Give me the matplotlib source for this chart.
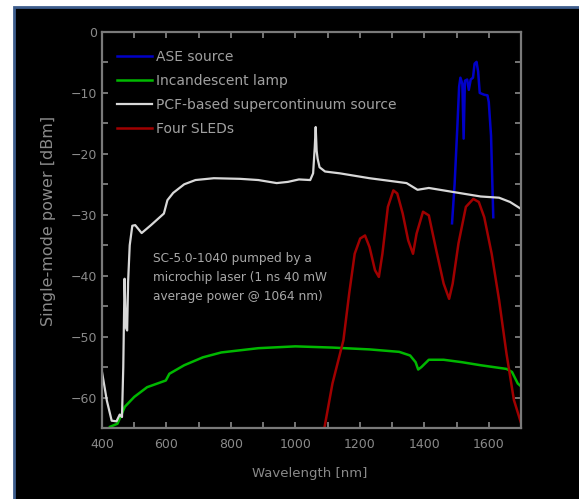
import matplotlib
matplotlib.use("Agg")
import matplotlib.pyplot as plt
from matplotlib.patches import Rectangle
from matplotlib.ticker import MultipleLocator

# PCF-based supercontinuum source
sc_wl = [400, 415, 430, 445, 455, 462, 466, 470, 474, 478, 481, 486, 494, 503, 523, 552, 592, 603, 621,
         655, 690, 747, 828, 885, 942, 977, 1011, 1046, 1055, 1060, 1063, 1066, 1069, 1075, 1092, 1138,
         1230, 1345, 1379, 1414, 1494, 1575, 1632, 1666, 1699]
sc_db = [-55.8, -60.5, -63.8, -63.9, -62.8, -63.2, -55.0, -40.5, -48.5, -49.0, -41.0, -35.0, -31.8, -31.7,
         -33.0, -31.7, -29.8, -27.6, -26.4, -25.0, -24.3, -24.0, -24.1, -24.3, -24.8, -24.6, -24.2, -24.3,
         -23.2, -19.0, -15.6, -19.5, -20.8, -22.2, -22.9, -23.2, -24.0, -24.8, -25.9, -25.6, -26.3, -27.0,
         -27.2, -27.9, -29.0]

# Incandescent lamp
lamp_wl = [425, 448, 471, 500, 540, 598, 609, 655, 713, 770, 885, 1000, 1115, 1230, 1322, 1356, 1373, 1381,
           1391, 1414, 1460, 1517, 1575, 1655, 1672, 1690, 1701]
lamp_db = [-64.8, -64.3, -61.5, -59.9, -58.3, -57.2, -56.1, -54.7, -53.4, -52.6, -51.9, -51.6, -51.8, -52.1,
           -52.5, -53.1, -54.2, -55.4, -55.0, -53.8, -53.8, -54.2, -54.7, -55.3, -55.8, -57.7, -58.2]

# Four SLEDs
sled_wl = [1090, 1115, 1149, 1167, 1184, 1201, 1216, 1230, 1247, 1259, 1270, 1287, 1304, 1316, 1333, 1350,
           1365, 1376, 1396, 1414, 1437, 1460, 1477, 1488, 1506, 1529, 1552, 1569, 1586, 1609, 1632, 1655,
           1678, 1699]
sled_db = [-65.0, -57.7, -50.6, -42.9, -36.4, -33.9, -33.4, -35.3, -39.1, -40.2, -36.4, -28.7, -26.0, -26.5,
           -29.8, -34.2, -36.4, -33.1, -29.5, -30.1, -35.8, -41.3, -43.8, -41.3, -34.7, -28.7, -27.4, -27.9,
           -30.4, -36.4, -44.0, -52.8, -60.4, -64.0]

# ASE source
ase_wl = [1486, 1494, 1503, 1508, 1512, 1518, 1522, 1526, 1533, 1538, 1544, 1551, 1556, 1562, 1567, 1572,
          1586, 1596, 1600, 1607, 1614]
ase_db = [-31.4, -25.0, -15.0, -9.0, -7.5, -8.5, -17.5, -8.0, -7.8, -9.5, -7.8, -7.5, -5.2, -4.9, -6.5,
          -10.0, -10.3, -10.4, -11.5, -17.0, -30.4]

NOTE = "SC-5.0-1040 pumped by a\nmicrochip laser (1 ns 40 mW\naverage power @ 1064 nm)"

GREY = "#8a8a8a"

fig = plt.figure(figsize=(5.79, 4.99), dpi=100, facecolor="white")
fig.add_artist(Rectangle((14 / 579, -0.01), 1.0, 1 - 7 / 499 + 0.01, transform=fig.transFigure,
                         facecolor="black", edgecolor="#3d5d8c", linewidth=2, zorder=-10))

ax = fig.add_axes([102 / 579, 1 - 428 / 499, (521 - 102) / 579, (428 - 32) / 499])
ax.set_facecolor("black")

ax.plot(ase_wl, ase_db, color="#0000c8", lw=1.8, label="ASE source")
ax.plot(lamp_wl, lamp_db, color="#00b800", lw=1.8, label="Incandescent lamp")
ax.plot(sc_wl, sc_db, color="#d8d8d8", lw=1.6, label="PCF-based supercontinuum source")
ax.plot(sled_wl, sled_db, color="#a00000", lw=1.8, label="Four SLEDs")

ax.set_xlim(400, 1700)
ax.set_ylim(-65, 0)
ax.xaxis.set_major_locator(MultipleLocator(200))
ax.xaxis.set_minor_locator(MultipleLocator(100))
ax.yaxis.set_major_locator(MultipleLocator(10))
ax.yaxis.set_minor_locator(MultipleLocator(5))
ax.tick_params(which="both", direction="in", top=True, right=True, colors=GREY,
               length=4, width=1.2, labelsize=9, labelcolor=GREY)
ax.tick_params(axis="x", pad=7)
for s in ax.spines.values():
    s.set_color("#7a7a7a")
    s.set_linewidth(1.6)

ax.set_xlabel("Wavelength [nm]", color=GREY, fontsize=9.5)
ax.xaxis.set_label_coords(0.496, -0.098)
ax.set_ylabel("Single-mode power [dBm]", color=GREY, fontsize=11.5)
ax.yaxis.set_label_coords(-0.110, 0.523)

leg = ax.legend(loc="upper left", bbox_to_anchor=(0.036, 0.954), frameon=False, fontsize=10,
                borderpad=0, borderaxespad=0, handlelength=2.5, handletextpad=0.3, labelspacing=0.72)
for t in leg.get_texts():
    t.set_color("#a0a0a0")

ax.text(0.122, 0.445, NOTE, transform=ax.transAxes, va="top", ha="left", color="#a8a8a8",
        fontsize=8.7, linespacing=1.62)

fig.savefig("out.png", dpi=100, facecolor=fig.get_facecolor())
